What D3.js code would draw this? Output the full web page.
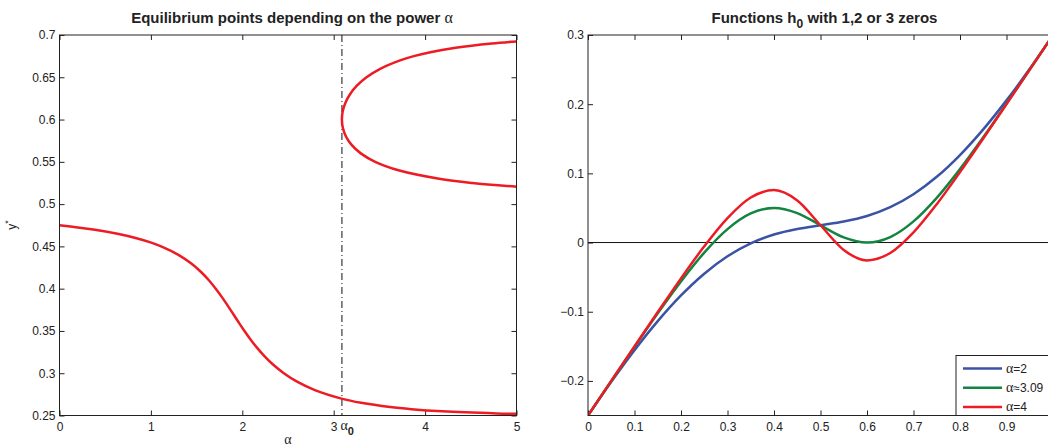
<!DOCTYPE html>
<html><head><meta charset="utf-8">
<script src="https://cdn.jsdelivr.net/npm/d3@7"></script>
<style>
body{margin:0;background:#fff;}
text{font-family:"Liberation Sans",Arial,Helvetica,sans-serif;fill:#222;}
.gr{font-family:"Liberation Serif","Times New Roman",serif;}
</style></head>
<body><svg id="c" width="1048" height="448"></svg>
<script>
// ---- Left panel data: equilibrium y* vs alpha ----
const lowerAlpha = [0, 0.370, 0.6343, 0.8328, 0.9876, 1.112, 1.3006, 1.4386, 1.546, 1.634, 1.7095, 1.7771, 1.840, 1.9007, 1.9613, 2.0237, 2.090, 2.1625, 2.2443, 2.3394, 2.4542, 2.5992, 2.7943, 3.0847, 3.3008, 3.6179, 3.8504, 4.1867, 4.7796, 5.0];
const lowerY     = [0.475, 0.47, 0.465, 0.46, 0.455, 0.45, 0.44, 0.43, 0.42, 0.41, 0.40, 0.39, 0.38, 0.37, 0.36, 0.35, 0.34, 0.33, 0.32, 0.31, 0.30, 0.29, 0.28, 0.27, 0.265, 0.26, 0.2575, 0.255, 0.2525, 0.25196];
const upperAlpha = [5.0, 4.5161, 4.1533, 3.7090, 3.4541, 3.2962, 3.1960, 3.1341, 3.1005, 3.0897, 3.0992, 3.1284, 3.1785, 3.2533, 3.3591, 3.5087, 3.7265, 3.8764, 4.0703, 4.3346, 4.7295, 4.9561, 5.0];
const upperY     = [0.5205, 0.525, 0.53, 0.54, 0.55, 0.56, 0.57, 0.58, 0.59, 0.60, 0.61, 0.62, 0.63, 0.64, 0.65, 0.66, 0.67, 0.675, 0.68, 0.685, 0.69, 0.692, 0.6923];
const alpha0 = 3.09;
const leftXTicks = [0, 1, 2, 3, 4, 5];
const leftYTicks = [0.25, 0.3, 0.35, 0.4, 0.45, 0.5, 0.55, 0.6, 0.65, 0.7];

// ---- Right panel data: h0(y) for three alphas ----
const hY = [0, 0.05, 0.1, 0.15, 0.2, 0.25, 0.3, 0.35, 0.4, 0.45, 0.5, 0.55, 0.6, 0.65, 0.7, 0.75, 0.8, 0.85, 0.9, 0.95, 1.0];
const hAlpha2 = [-0.25, -0.201243, -0.155488, -0.113590, -0.076471, -0.045, -0.019827, -0.001147, 0.011539, 0.019554, 0.025, 0.030445, 0.038461, 0.051147, 0.069827, 0.095, 0.126471, 0.163590, 0.205488, 0.251243, 0.3];
const hAlpha309 = [-0.25, -0.200050, -0.150506, -0.102106, -0.056122, -0.014608, 0.019409, 0.042101, 0.050010, 0.042606, 0.025, 0.007394, -0.000010, 0.007899, 0.030591, 0.064608, 0.106122, 0.152106, 0.200506, 0.250050, 0.3];
const hAlpha4 = [-0.25, -0.200003, -0.150068, -0.100436, -0.051751, -0.005488, 0.035314, 0.065104, 0.075773, 0.060747, 0.025, -0.010747, -0.025773, -0.015104, 0.014686, 0.055488, 0.101751, 0.150436, 0.200068, 0.250003, 0.3];
const seriesNames = ["=2", "≈3.09", "=4"];
const seriesColors = ["#3A53A4", "#138442", "#ED1C24"];
const rightXTicks = [0, 0.1, 0.2, 0.3, 0.4, 0.5, 0.6, 0.7, 0.8, 0.9];
const rightYTicks = [-0.2, -0.1, 0, 0.1, 0.2, 0.3];

const svg = d3.select("#c");
const pTop = 35, pBottom = 415.5;
const fmt = d3.format("~g");
const ink = "#222";

function frame(g, x0, x1) {
  g.append("rect").attr("x", x0).attr("y", pTop).attr("width", x1 - x0).attr("height", pBottom - pTop)
    .attr("fill", "none").attr("stroke", ink).attr("stroke-width", 1);
}
function styleAxis(sel) {
  sel.select(".domain").remove();
  sel.selectAll("line").attr("stroke", ink);
  sel.selectAll("text").attr("font-size", 12).attr("fill", ink)
     .style("font-family", "'Liberation Sans',Arial,Helvetica,sans-serif");
}

// ================= LEFT PANEL =================
const xL = d3.scaleLinear().domain([0, 5]).range([59.5, 516.5]);
const yL = d3.scaleLinear().domain([0.25, 0.7]).range([pBottom, pTop]);
const gL = svg.append("g");
svg.append("clipPath").attr("id", "clipL").append("rect")
  .attr("x", xL(0)).attr("y", pTop).attr("width", xL(5) - xL(0)).attr("height", pBottom - pTop);

gL.append("g").attr("transform", `translate(0,${pBottom})`)
  .call(d3.axisBottom(xL).tickValues(leftXTicks).tickSizeInner(-5).tickSizeOuter(0).tickPadding(7).tickFormat(fmt))
  .call(styleAxis);
gL.append("g").attr("transform", `translate(0,${pTop})`)
  .call(d3.axisTop(xL).tickValues(leftXTicks).tickSizeInner(-5).tickSizeOuter(0).tickFormat(""))
  .call(styleAxis);
gL.append("g").attr("transform", `translate(${xL(0)},0)`)
  .call(d3.axisLeft(yL).tickValues(leftYTicks).tickSizeInner(-5).tickSizeOuter(0).tickPadding(4).tickFormat(fmt))
  .call(styleAxis);
gL.append("g").attr("transform", `translate(${xL(5)},0)`)
  .call(d3.axisRight(yL).tickValues(leftYTicks).tickSizeInner(-5).tickSizeOuter(0).tickFormat(""))
  .call(styleAxis);

// dash-dot alpha0 line
gL.append("line").attr("x1", xL(alpha0)).attr("x2", xL(alpha0)).attr("y1", yL(0.7)).attr("y2", yL(0.25))
  .attr("stroke", "#111").attr("stroke-width", 1).attr("stroke-dasharray", "7,3,1,3");

const lineL = d3.line().x(d => xL(d[0])).y(d => yL(d[1])).curve(d3.curveCatmullRom.alpha(0.5));
gL.append("path").datum(lowerAlpha.map((a, i) => [a, lowerY[i]]))
  .attr("d", lineL).attr("fill", "none").attr("stroke", "#ED1C24").attr("stroke-width", 2.5).attr("clip-path", "url(#clipL)");
gL.append("path").datum(upperAlpha.map((a, i) => [a, upperY[i]]))
  .attr("d", lineL).attr("fill", "none").attr("stroke", "#ED1C24").attr("stroke-width", 2.5).attr("clip-path", "url(#clipL)");
frame(gL, xL(0), xL(5));

// labels
const tl = gL.append("text").attr("x", (xL(0) + xL(5)) / 2 + 4).attr("y", 23).attr("text-anchor", "middle")
  .attr("font-size", 15).attr("font-weight", "bold");
tl.append("tspan").text("Equilibrium points depending on the power ");
tl.append("tspan").attr("class", "gr").attr("font-weight", "normal").attr("font-size", 16).text("α");
gL.append("text").attr("class", "gr").attr("x", (xL(0) + xL(5)) / 2).attr("y", 444).attr("text-anchor", "middle")
  .attr("font-size", 14).text("α");
const a0 = gL.append("text").attr("x", xL(alpha0) - 1.5).attr("y", 430).attr("font-size", 14);
a0.append("tspan").attr("class", "gr").text("α");
a0.append("tspan").attr("dy", 5).attr("font-weight", "bold").attr("font-size", 11).text("0");
const yl = gL.append("text").attr("transform", "translate(16,225) rotate(-90)").attr("text-anchor", "middle").attr("font-size", 12);
yl.append("tspan").text("y");
yl.append("tspan").attr("dy", -5).attr("font-size", 9).text("*");

// ================= RIGHT PANEL =================
const xR = d3.scaleLinear().domain([0, 1]).range([588, 1053]);
const yR = d3.scaleLinear().domain([-0.25, 0.3]).range([pBottom, pTop]);
const gR = svg.append("g");
svg.append("clipPath").attr("id", "clipR").append("rect")
  .attr("x", xR(0)).attr("y", pTop).attr("width", xR(1) - xR(0)).attr("height", pBottom - pTop);

gR.append("g").attr("transform", `translate(0,${pBottom})`)
  .call(d3.axisBottom(xR).tickValues(rightXTicks).tickSizeInner(-5).tickSizeOuter(0).tickPadding(7).tickFormat(fmt))
  .call(styleAxis);
gR.append("g").attr("transform", `translate(0,${pTop})`)
  .call(d3.axisTop(xR).tickValues(rightXTicks).tickSizeInner(-5).tickSizeOuter(0).tickFormat(""))
  .call(styleAxis);
gR.append("g").attr("transform", `translate(${xR(0)},0)`)
  .call(d3.axisLeft(yR).tickValues(rightYTicks).tickSizeInner(-5).tickSizeOuter(0).tickPadding(4).tickFormat(fmt))
  .call(styleAxis);

// zero line
gR.append("line").attr("x1", xR(0)).attr("x2", xR(1)).attr("y1", yR(0)).attr("y2", yR(0))
  .attr("stroke", "#111").attr("stroke-width", 1);

const lineR = d3.line().x((d, i) => xR(hY[i])).y(d => yR(d)).curve(d3.curveMonotoneX);
[hAlpha2, hAlpha309, hAlpha4].forEach((s, k) => {
  gR.append("path").datum(s).attr("d", lineR).attr("fill", "none")
    .attr("stroke", seriesColors[k]).attr("stroke-width", 2.5).attr("clip-path", "url(#clipR)");
});
frame(gR, xR(0), xR(1));

gR.append("text").attr("x", (xR(0) + xR(1)) / 2 + 4).attr("y", 23).attr("text-anchor", "middle")
  .attr("font-size", 15).attr("font-weight", "bold")
  .call(t => { t.append("tspan").text("Functions h"); t.append("tspan").attr("dy", 5).attr("font-size", 12).text("0");
               t.append("tspan").attr("dy", -5).text(" with 1,2 or 3 zeros"); });

// legend
const lg = gR.append("g");
lg.append("rect").attr("x", 956).attr("y", 355.5).attr("width", 120).attr("height", pBottom - 355.5)
  .attr("fill", "#fff").attr("stroke", ink).attr("stroke-width", 1);
seriesNames.forEach((n, k) => {
  const yy = 368.5 + k * 19.2;
  lg.append("line").attr("x1", 963).attr("x2", 1002).attr("y1", yy).attr("y2", yy)
    .attr("stroke", seriesColors[k]).attr("stroke-width", 2.5);
  const t = lg.append("text").attr("x", 1006).attr("y", yy + 4).attr("font-size", 12);
  t.append("tspan").attr("class", "gr").attr("font-size", 14).text("α");
  t.append("tspan").text(n);
});
</script></body></html>
